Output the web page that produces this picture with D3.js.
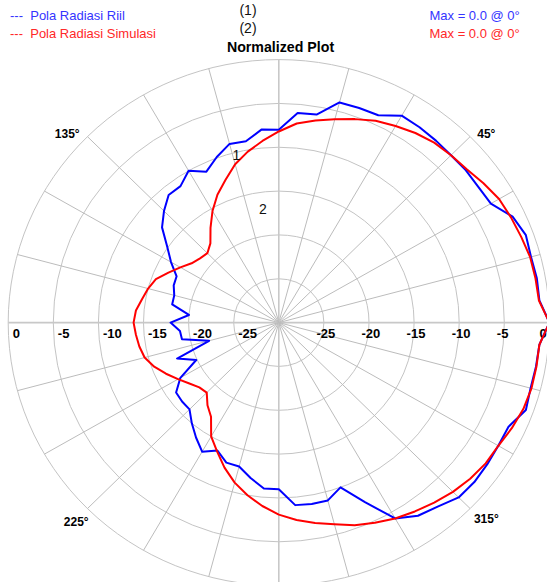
<!DOCTYPE html>
<html>
<head>
<meta charset="utf-8">
<script src="https://cdn.jsdelivr.net/npm/d3@7"></script>
<style>
  html, body { margin: 0; padding: 0; background: #fff; overflow: hidden; }
  text { font-family: "Liberation Sans", Arial, sans-serif; }
</style>
</head>
<body>
<svg id="chart" width="547" height="582"></svg>
<script>
// Azimuth of each sample, degrees (counter-clockwise from the right)
const angles = [0, 5, 10, 15, 20, 25, 30, 35, 40, 45, 50, 55, 60, 65, 70, 75, 80, 85,
  90, 95, 100, 105, 110, 115, 120, 125, 130, 135, 140, 145, 150, 155, 160, 165, 170, 175,
  180, 185, 190, 195, 200, 205, 210, 215, 220, 225, 230, 235, 240, 245, 250, 255, 260, 265,
  270, 275, 280, 285, 290, 295, 300, 305, 310, 315, 320, 325, 330, 335, 340, 345, 350, 355];

// Measured pattern, normalized dB
const riil = [0.0, -1.0, -0.95, -1.05, -0.85, -1.4, -2.85, -3.0, -2.95, -3.0, -2.9, -2.8, -2.75, -3.9, -3.95, -4.0, -5.9, -6.0,
  -8.0, -7.9, -9.0, -8.9, -9.9, -11.0, -10.0, -11.0, -11.0, -12.0, -13.1, -14.9, -16.2, -17.5, -17.6, -18.0, -18.0, -20.0,
  -18.0, -19.0, -19.1, -22.0, -18.0, -19.9, -17.4, -16.1, -16.0, -16.0, -15.0, -14.0, -13.0, -13.9, -13.0, -13.0, -12.0, -11.0,
  -11.0, -9.1, -9.0, -9.0, -10.0, -7.4, -4.2, -3.1, -2.6, -1.8, -1.7, -1.8, -1.9, -1.9, -0.85, -1.1, -1.05, -1.0];

// Simulated pattern, normalized dB
const simulasi = [0.0, -1.05, -1.1, -1.15, -1.4, -1.6, -1.8, -2.3, -2.8, -3.0, -3.2, -3.6, -4.1, -4.6, -5.3, -6.0, -6.6, -7.2,
  -8.2, -9.2, -10.2, -11.3, -12.7, -13.9, -15.3, -16.8, -18.2, -18.8, -18.6, -18.2, -17.4, -16.5, -15.5, -15.0, -14.6, -14.1,
  -13.9, -14.1, -14.3, -14.6, -15.3, -16.2, -17.1, -17.9, -18.5, -18.7, -17.7, -16.9, -15.0, -13.8, -12.4, -11.1, -10.0, -9.0,
  -8.1, -7.4, -6.8, -6.2, -5.4, -4.8, -4.2, -3.7, -3.2, -2.7, -2.3, -2.0, -1.9, -1.5, -1.15, -1.0, -1.0, -1.0];

const seriesNames = ["Pola Radiasi Riil", "Pola Radiasi Simulasi"];
const seriesColors = ["#0000ff", "#ff0000"];
const seriesTextColors = ["#3434ff", "#ff2828"];
const seriesTags = ["(1)", "(2)"];
const markerTags = ["1", "2"];

const ringLevels = [0, -5, -10, -15, -20, -25];
const ringLabels = ["0", "-5", "-10", "-15", "-20", "-25"];
const spokeAngles = [0, 15, 30, 45, 60, 75, 90, 105, 120, 135, 150, 165,
  180, 195, 210, 225, 240, 255, 270, 285, 300, 315, 330, 345];
const cornerAngles = [45, 135, 225, 315];
const cornerLabels = ["45°", "135°", "225°", "315°"];

const W = 547;
const svg = d3.select("#chart");
const cx = 278.8, cy = 322.6;

// The plot is slightly wider than tall, so the radius has an x and a y scale
const rX = d3.scaleLinear().domain([-30, 0]).range([0, 270.6]);
const rY = d3.scaleLinear().domain([-30, 0]).range([0, 263]);
const rad = d => d * Math.PI / 180;
const px = (a, v) => cx + rX(v) * Math.cos(rad(a));
const py = (a, v) => cy - rY(v) * Math.sin(rad(a));

const grid = svg.append("g").attr("class", "grid");

// range rings
grid.selectAll("ellipse").data(ringLevels).join("ellipse")
  .attr("cx", cx).attr("cy", cy)
  .attr("rx", d => rX(d)).attr("ry", d => rY(d))
  .attr("fill", "none").attr("stroke", "#c4c4c4").attr("stroke-width", 1);

// azimuth spokes
grid.selectAll("line").data(spokeAngles).join("line")
  .attr("x1", cx).attr("y1", cy)
  .attr("x2", d => px(d, 0)).attr("y2", d => py(d, 0))
  .attr("stroke", d => d % 90 === 0 ? "#c8c8c8" : "#bcbcbc")
  .attr("stroke-width", d => d % 90 === 0 ? 1.6 : 1);

// ring labels on both sides of the horizontal axis
const ringText = svg.append("g")
  .attr("font-size", "13px").attr("font-weight", "bold").attr("fill", "#000");
ringText.selectAll("text.left").data(ringLevels).join("text").attr("class", "left")
  .attr("x", d => px(180, d) + 4.5).attr("y", 338)
  .text((d, i) => ringLabels[i]);
ringText.selectAll("text.right").data(ringLevels).join("text").attr("class", "right")
  .attr("x", d => Math.min(px(0, d) - 7.5, W - 7.5)).attr("y", 338)
  .text((d, i) => ringLabels[i]);

// diagonal azimuth labels
const cornerOffsets = [[6, 11], [-10, 11], [-1, 7.5], [6, 4.5]];
svg.append("g").attr("font-size", "12px").attr("font-weight", "bold")
  .selectAll("text").data(cornerAngles).join("text")
  .attr("text-anchor", "middle")
  .attr("x", (d, i) => px(d, 1.6) + cornerOffsets[i][0])
  .attr("y", (d, i) => py(d, 1.6) + cornerOffsets[i][1])
  .text((d, i) => cornerLabels[i]);

// pattern traces
const pattern = values => d3.line()
  .x((d, i) => px(angles[i], d))
  .y((d, i) => py(angles[i], d))
  .curve(d3.curveLinearClosed)(values);

[riil, simulasi].forEach((vals, k) => {
  svg.append("path")
    .attr("d", pattern(vals))
    .attr("fill", "none")
    .attr("stroke", seriesColors[k])
    .attr("stroke-width", 2)
    .attr("stroke-linejoin", "round");
});

// trace markers inside the plot
svg.append("text").attr("x", 236.5).attr("y", 160).attr("text-anchor", "middle")
  .attr("font-size", "14px").attr("fill", "#111").text(markerTags[0]);
svg.append("text").attr("x", 263).attr("y", 214).attr("text-anchor", "middle")
  .attr("font-size", "14px").attr("fill", "#111").text(markerTags[1]);

// header: legend, tags, title, maxima
const header = svg.append("g").attr("font-size", "13px");
[riil, simulasi].forEach((vals, k) => {
  const y = 20 + k * 18;
  header.append("text").attr("x", 10).attr("y", y)
    .attr("fill", seriesTextColors[k]).attr("xml:space", "preserve")
    .style("white-space", "pre")
    .text("---  " + seriesNames[k]);
  const mx = d3.max(vals);
  const at = angles[vals.indexOf(mx)];
  header.append("text").attr("x", 429.5).attr("y", y)
    .attr("fill", seriesTextColors[k])
    .text(`Max = ${mx.toFixed(1)} @ ${at}°`);
  header.append("text").attr("x", 248).attr("y", 15 + k * 18)
    .attr("text-anchor", "middle").attr("font-size", "14px").attr("fill", "#111")
    .text(seriesTags[k]);
});
svg.append("text").attr("x", 280.5).attr("y", 52)
  .attr("text-anchor", "middle").attr("font-size", "14.2px").attr("font-weight", "bold")
  .attr("fill", "#000").text("Normalized Plot");
</script>
</body>
</html>
